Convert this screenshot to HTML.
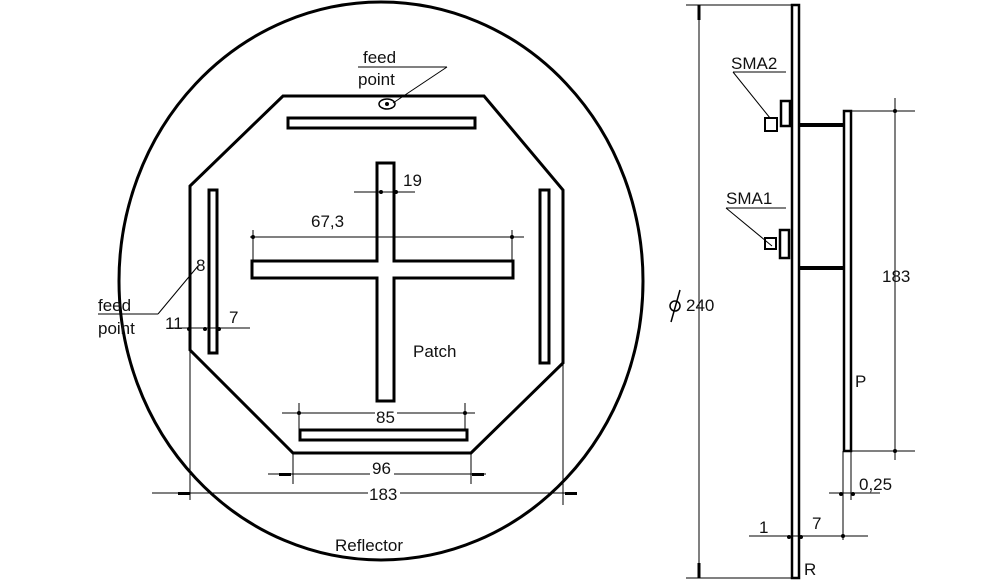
<!DOCTYPE html>
<html><head><meta charset="utf-8"><style>
html,body{margin:0;padding:0;background:#fff;}
svg{display:block;}
text{font-family:"Liberation Sans",sans-serif;font-size:17px;fill:#111;}
</style></head><body>
<svg width="1000" height="586" viewBox="0 0 1000 586" xmlns="http://www.w3.org/2000/svg">
<g fill="none" stroke="#000">
<ellipse cx="381" cy="281" rx="262" ry="279" stroke-width="3"/>
<polygon points="283,96 484,96 563,190 563,363 471,453 293,453 190,350 190,186" stroke-width="3"/>
<rect x="288" y="118" width="187" height="10" stroke-width="3"/>
<rect x="209" y="190" width="8" height="163" stroke-width="3"/>
<rect x="540" y="190" width="9" height="173" stroke-width="3"/>
<rect x="300" y="430" width="167" height="10" stroke-width="3"/>
<path d="M377,163 H394 V261 H513 V278 H394 V401 H377 V278 H252 V261 H377 Z" stroke-width="3"/>
<ellipse cx="387" cy="104" rx="8" ry="5" stroke-width="1.5"/>
<g stroke-width="1">
<line x1="358" y1="67" x2="447" y2="67"/>
<line x1="447" y1="67" x2="393" y2="103"/>
<line x1="354" y1="192" x2="415" y2="192"/>
<line x1="250" y1="237" x2="524" y2="237"/>
<line x1="253" y1="230" x2="253" y2="260"/>
<line x1="512" y1="230" x2="512" y2="260"/>
<line x1="169" y1="328" x2="250" y2="328"/>
<line x1="98" y1="314" x2="158" y2="314"/>
<line x1="158" y1="314" x2="198" y2="266"/>
<line x1="282" y1="413" x2="475" y2="413"/>
<line x1="299" y1="403" x2="299" y2="430"/>
<line x1="465" y1="403" x2="465" y2="430"/>
<line x1="268" y1="474" x2="486" y2="474"/>
<line x1="293" y1="453" x2="293" y2="484"/>
<line x1="471" y1="453" x2="471" y2="484"/>
<line x1="152" y1="493" x2="577" y2="493"/>
<line x1="190" y1="350" x2="190" y2="500"/>
<line x1="563" y1="363" x2="563" y2="505"/>
<line x1="699" y1="5" x2="699" y2="578"/>
<line x1="686" y1="5" x2="792" y2="5"/>
<line x1="686" y1="578" x2="792" y2="578"/>
<line x1="895" y1="98" x2="895" y2="460"/>
<line x1="851" y1="111" x2="915" y2="111"/>
<line x1="851" y1="451" x2="915" y2="451"/>
<line x1="829" y1="493" x2="880" y2="493"/>
<line x1="843" y1="451" x2="843" y2="540"/>
<line x1="851" y1="451" x2="851" y2="500"/>
<line x1="749" y1="536" x2="868" y2="536"/>
<line x1="733" y1="72" x2="786" y2="72"/>
<line x1="733" y1="72" x2="770" y2="118"/>
<line x1="726" y1="208" x2="786" y2="208"/>
<line x1="726" y1="208" x2="772" y2="246"/>
</g>
<rect x="792" y="5" width="7" height="573" stroke-width="2.5"/>
<rect x="844" y="111" width="7" height="340" stroke-width="2.5"/>
<line x1="799" y1="125" x2="844" y2="125" stroke-width="4"/>
<line x1="799" y1="268" x2="844" y2="268" stroke-width="4"/>
<rect x="781" y="101" width="9" height="25" stroke-width="2.5"/>
<rect x="765" y="118" width="12" height="13" stroke-width="2"/>
<rect x="780" y="230" width="9" height="28" stroke-width="2.5"/>
<rect x="765" y="238" width="11" height="11" stroke-width="2"/>
<line x1="699" y1="5" x2="699" y2="20" stroke-width="3"/>
<line x1="699" y1="563" x2="699" y2="578" stroke-width="3"/>
<line x1="671" y1="322" x2="680" y2="290" stroke-width="1.5"/>
<circle cx="675" cy="306" r="5" stroke-width="1.5"/>
</g>
<g fill="#000">
<circle cx="381" cy="192" r="2"/><circle cx="396" cy="192" r="2"/>
<circle cx="253" cy="237" r="2"/><circle cx="512" cy="237" r="2"/>
<circle cx="189" cy="329" r="2"/><circle cx="205" cy="329" r="2"/><circle cx="219" cy="329" r="2"/>
<circle cx="299" cy="413" r="2"/><circle cx="465" cy="413" r="2"/>
<circle cx="387" cy="104" r="2"/>
<rect x="279" y="473" width="12" height="3"/><rect x="472" y="473" width="12" height="3"/>
<rect x="178" y="492" width="12" height="3"/><rect x="565" y="492" width="12" height="3"/>
<circle cx="895" cy="111" r="2"/><circle cx="895" cy="451" r="2"/>
<circle cx="841" cy="494" r="2"/><circle cx="853" cy="494" r="2"/>
<circle cx="789" cy="537" r="2"/><circle cx="801" cy="537" r="2"/><circle cx="843" cy="536" r="2"/>
</g>
<g fill="#fff">
<rect x="375" y="410" width="22" height="14"/>
<rect x="370" y="462" width="24" height="16"/>
<rect x="368" y="487" width="32" height="16"/>
</g>
<text x="363" y="63">feed</text>
<text x="358" y="85">point</text>
<text x="403" y="186">19</text>
<text x="311" y="227">67,3</text>
<text x="196" y="271" font-size="13">8</text>
<text x="98" y="311">feed</text>
<text x="98" y="334">point</text>
<text x="165" y="329">11</text>
<text x="229" y="323">7</text>
<text x="413" y="357">Patch</text>
<text x="376" y="423">85</text>
<text x="372" y="474">96</text>
<text x="369" y="500">183</text>
<text x="335" y="551">Reflector</text>
<text x="686" y="311">240</text>
<text x="731" y="69">SMA2</text>
<text x="726" y="204">SMA1</text>
<text x="882" y="282">183</text>
<text x="855" y="387">P</text>
<text x="859" y="490">0,25</text>
<text x="759" y="533">1</text>
<text x="812" y="529">7</text>
<text x="804" y="575">R</text>
</svg>
</body></html>
